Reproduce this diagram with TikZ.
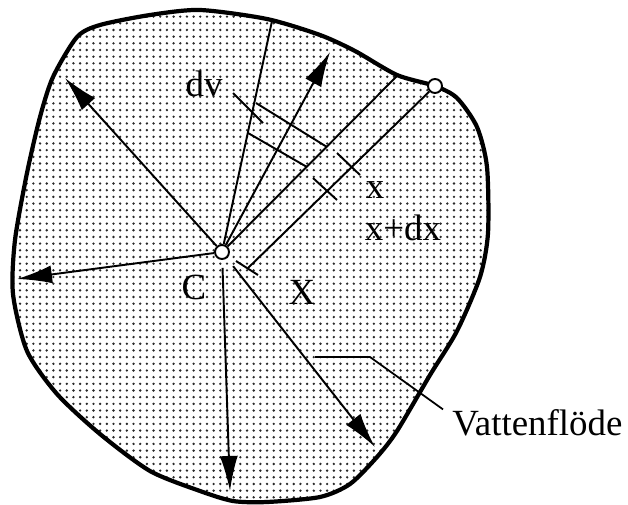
\documentclass[tikz,border=0pt]{standalone}
\usepackage{fontspec}
\setmainfont{Liberation Serif}
\definecolor{Stipple}{RGB}{40,40,40}
\usetikzlibrary{arrows.meta,positioning,patterns.meta}

\begin{document}
\begin{tikzpicture}[x=0.02cm,y=-0.02cm,
  outline/.style={line width=2.4pt,pattern={Dots[distance=3.8pt,radius=0.75pt]},pattern color=Stipple},
  ray/.style={line width=1.1pt},
  flow/.style={ray,-{Latex[length=0.7cm,width=0.36cm]}},
  hole/.style={circle,draw,fill=white,line width=1.1pt,inner sep=0pt,minimum size=0.28cm},
  lbl/.style={font=\fontsize{21}{25}\selectfont,inner sep=0pt}]
  \useasboundingbox (0,0) rectangle (628,504);
  % body
  \draw[outline] plot[smooth cycle,tension=0.45] coordinates {
    (200,10) (267,19) (320,35) (355,51) (397,75) (435,86) (457,98) (477,127)
    (487,167) (488,233) (480,277) (457,331) (430,375) (397,431) (377,457)
    (350,484) (320,497) (267,502) (233,501) (200,491) (150,471) (100,434)
    (57,394) (27,351) (13,294) (15,240) (27,173) (40,117) (53,77) (77,37)
    (100,25) (150,15)};
  \node[hole] (c) at (222,252) {};
  \node[hole] (bp) at (435,86) {};
  % ends of the rays
  \coordinate (topend) at (272,21);
  \coordinate (upend) at (330,52);
  \coordinate (edge) at (397,76);
  \coordinate (ulend) at (65,78);
  \coordinate (lend) at (17,279);
  \coordinate (dend) at (230,491);
  \coordinate (drend) at (375,447);
  % strip marks
  \coordinate (x0) at (248,268);
  \coordinate (x0a) at (236,261);
  \coordinate (x0b) at (258,275);
  \coordinate (p1a) at (256,103);
  \coordinate (p1b) at (327,147);
  \coordinate (p2a) at (248,133);
  \coordinate (p2b) at (307,167);
  \coordinate (t1a) at (337,153);
  \coordinate (t1b) at (360,175);
  \coordinate (t2a) at (313,178);
  \coordinate (t2b) at (337,200);
  \coordinate (dva) at (233,93);
  \coordinate (dvb) at (263,123);
  \draw[ray] (c) -- (topend);
  \draw[ray] (c) -- (edge);
  \draw[flow] (c) -- (upend);
  \draw[flow] (c) -- (ulend);
  \draw[flow] (c) -- (lend);
  \draw[flow,shorten <=0.16cm] (c) -- (dend);
  \draw[flow,shorten <=0.2cm] (c) -- (drend);
  \draw[ray] (x0) -- (bp);
  \draw[ray] (x0a) -- (x0b);
  \draw[ray] (p1a) -- (p1b);
  \draw[ray] (p2a) -- (p2b);
  \draw[ray] (t1a) -- (t1b);
  \draw[ray] (t2a) -- (t2b);
  \draw[ray] (dva) -- (dvb);
  % labels
  \node[lbl] (dv) at (204,84) {dv};
  \node[lbl] (xl) at (375,190) {x};
  \node[lbl] (xdx) at (403,228) {x+dx};
  \node[lbl] (cl) at (194,287) {C};
  \node[lbl] (xx) at (302,292) {X};
  \node[lbl,anchor=west] (vatten) at (452,423) {Vattenflöde};
  \coordinate (vs) at (315,357);
  \coordinate (vm) at (370,357);
  \draw[line width=1pt] (vs) -- (vm) -- ([xshift=-0.18cm]vatten.north west);
\end{tikzpicture}
\end{document}
